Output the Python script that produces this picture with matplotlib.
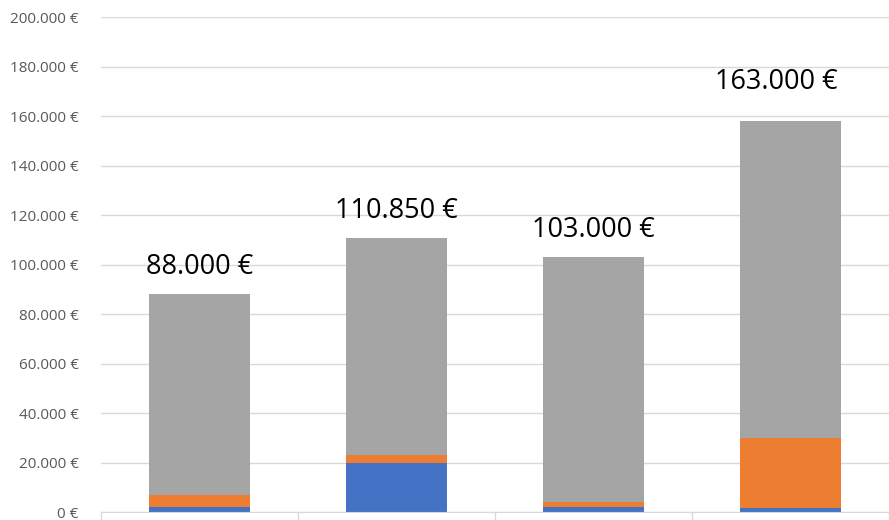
import numpy as np
import matplotlib.pyplot as plt
from matplotlib.ticker import FuncFormatter

# values (EUR)
categories = ["A", "B", "C", "D"]
blue_vals = [2000, 20000, 2000, 1500]
orange_vals = [5000, 3000, 2000, 28500]
gray_vals = [81000, 87850, 99000, 128000]
total_labels = [88000, 110850, 103000, 163000]

BLUE = "#4472C4"
ORANGE = "#ED7D31"
GRAY = "#A5A5A5"
GRID = "#D9D9D9"


def euro(v, pos=None):
    return "{:,.0f} €".format(v).replace(",", ".")


fig = plt.figure(figsize=(8.89, 5.2), dpi=100)
ax = fig.add_axes([0.1136, 0.0150, 0.8864, 0.9520])

x = np.arange(len(categories))
w = 0.515
ax.bar(x, blue_vals, w, color=BLUE, zorder=2)
ax.bar(x, orange_vals, w, bottom=blue_vals, color=ORANGE, zorder=2)
bottom2 = np.array(blue_vals) + np.array(orange_vals)
ax.bar(x, gray_vals, w, bottom=bottom2, color=GRAY, zorder=2)

# the last label sits a bit left of its bar in the original
label_dx = [0, 0, 0, -0.07]
for xi, lab, dx in zip(x, total_labels, label_dx):
    ax.text(xi + dx, lab + 11000, euro(lab), ha="center", va="center",
            fontsize=19.5, family="Open Sans", color="black")

ax.set_ylim(0, 200000)
ax.set_xlim(-0.5, len(categories) - 0.5)
ax.set_yticks(np.arange(0, 200001, 20000))
ax.yaxis.set_major_formatter(FuncFormatter(euro))
ax.grid(axis="y", color=GRID, linewidth=1, zorder=0)

ax.set_xticks(np.arange(-0.5, len(categories), 1.0))
ax.set_xticklabels([])
ax.tick_params(axis="x", length=7, color=GRID, width=1)
ax.tick_params(axis="y", length=0, pad=16, labelsize=11, labelcolor="#595959")
for lab in ax.get_yticklabels():
    lab.set_family("Open Sans")

for s in ["top", "right", "left"]:
    ax.spines[s].set_visible(False)
ax.spines["bottom"].set_color(GRID)
ax.spines["bottom"].set_zorder(3)

fig.savefig("out.png", dpi=100)
